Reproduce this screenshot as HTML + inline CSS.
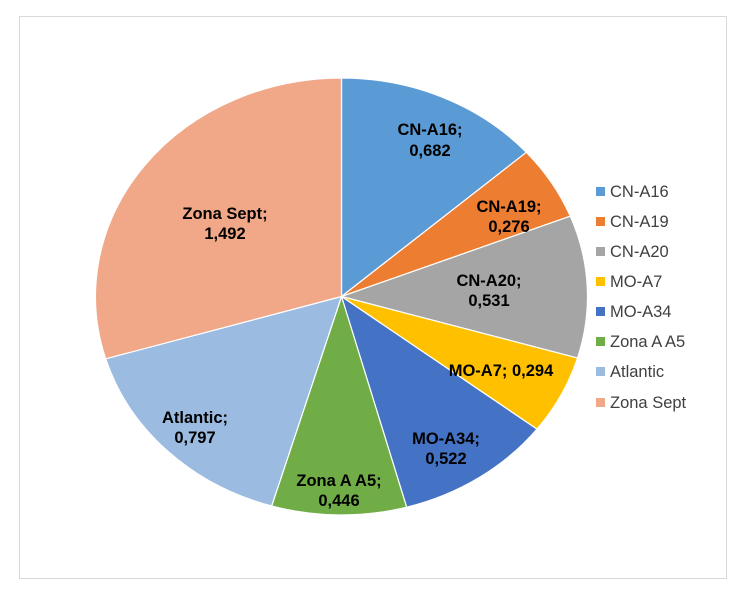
<!DOCTYPE html>
<html><head><meta charset="utf-8"><style>
html,body{margin:0;padding:0;background:#fff;}
svg{display:block;font-family:"Liberation Sans",Arial,sans-serif;}
.l{font-weight:bold;font-size:16.5px;fill:#000;text-anchor:middle;dominant-baseline:central;}
.g{font-size:16.5px;fill:#404040;dominant-baseline:central;}
</style></head><body>
<svg width="737" height="590" viewBox="0 0 737 590">
<rect x="19.5" y="16.5" width="707" height="562" fill="#fff" stroke="#d9d9d9" stroke-width="1"/>
<g transform="translate(341.5,296.5) scale(246,218.5)" stroke="#fff" stroke-width="1.2">
<path d="M0,0 L0,-1 A1,1 0 0 1 .7514,-.6598 Z" fill="#5B9BD5" vector-effect="non-scaling-stroke"/>
<path d="M0,0 L.7514,-.6598 A1,1 0 0 1 .9299,-.3677 Z" fill="#ED7D31" vector-effect="non-scaling-stroke"/>
<path d="M0,0 L.9299,-.3677 A1,1 0 0 1 .9595,.2816 Z" fill="#A5A5A5" vector-effect="non-scaling-stroke"/>
<path d="M0,0 L.9595,.2816 A1,1 0 0 1 .7944,.6069 Z" fill="#FFC000" vector-effect="non-scaling-stroke"/>
<path d="M0,0 L.7944,.6069 A1,1 0 0 1 .2649,.9643 Z" fill="#4472C4" vector-effect="non-scaling-stroke"/>
<path d="M0,0 L.2649,.9643 A1,1 0 0 1 -.2840,.9588 Z" fill="#70AD47" vector-effect="non-scaling-stroke"/>
<path d="M0,0 L-.2840,.9588 A1,1 0 0 1 -.9585,.2852 Z" fill="#9BBBE0" vector-effect="non-scaling-stroke"/>
<path d="M0,0 L-.9585,.2852 A1,1 0 0 1 0,-1 Z" fill="#F0A888" vector-effect="non-scaling-stroke"/>
</g>
<text class="l" x="430" y="130">CN-A16;</text><text class="l" x="430" y="151">0,682</text>
<text class="l" x="509" y="207">CN-A19;</text><text class="l" x="509" y="227">0,276</text>
<text class="l" x="489" y="281">CN-A20;</text><text class="l" x="489" y="301">0,531</text>
<text class="l" x="501" y="371">MO-A7; 0,294</text>
<text class="l" x="446" y="439">MO-A34;</text><text class="l" x="446" y="459">0,522</text>
<text class="l" x="339" y="481">Zona A A5;</text><text class="l" x="339" y="501">0,446</text>
<text class="l" x="195" y="418">Atlantic;</text><text class="l" x="195" y="438">0,797</text>
<text class="l" x="225" y="214">Zona Sept;</text><text class="l" x="225" y="234">1,492</text>
<g>
<rect x="596" y="187" width="9" height="9" fill="#5B9BD5"/><text class="g" x="610" y="192">CN-A16</text>
<rect x="596" y="217" width="9" height="9" fill="#ED7D31"/><text class="g" x="610" y="222">CN-A19</text>
<rect x="596" y="247" width="9" height="9" fill="#A5A5A5"/><text class="g" x="610" y="252">CN-A20</text>
<rect x="596" y="277" width="9" height="9" fill="#FFC000"/><text class="g" x="610" y="282">MO-A7</text>
<rect x="596" y="307" width="9" height="9" fill="#4472C4"/><text class="g" x="610" y="312">MO-A34</text>
<rect x="596" y="337" width="9" height="9" fill="#70AD47"/><text class="g" x="610" y="342">Zona A A5</text>
<rect x="596" y="367" width="9" height="9" fill="#9BBBE0"/><text class="g" x="610" y="372">Atlantic</text>
<rect x="596" y="398" width="9" height="9" fill="#F0A888"/><text class="g" x="610" y="403">Zona Sept</text>
</g>
</svg>
</body></html>
